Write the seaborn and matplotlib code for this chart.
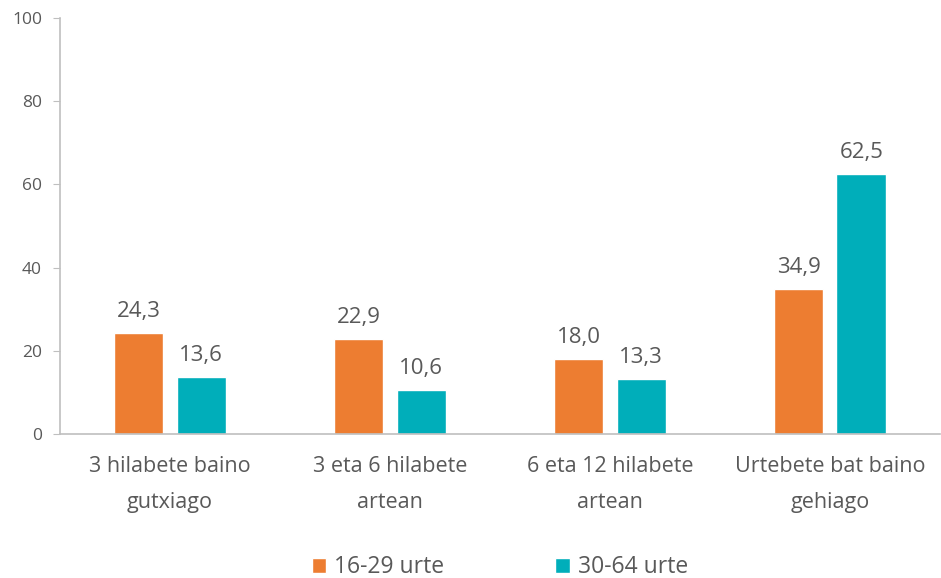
import seaborn as sns
import pandas as pd
import matplotlib.pyplot as plt

categories = ['3 hilabete baino\ngutxiago', '3 eta 6 hilabete\nartean',
              '6 eta 12 hilabete\nartean', 'Urtebete bat baino\ngehiago']
young = [24.3, 22.9, 18.0, 34.9]
older = [13.6, 10.6, 13.3, 62.5]
series_names = ['16-29 urte', '30-64 urte']
yticks = [0, 20, 40, 60, 80, 100]

df = pd.DataFrame({'Kategoria': categories, series_names[0]: young, series_names[1]: older})
df_melted = pd.melt(df, id_vars=['Kategoria'], var_name='Adina', value_name='Balioa')

sns.set_style("white")
plt.rcParams['font.family'] = ['Open Sans', 'DejaVu Sans']
text_color = '#595959'
axis_color = '#BFBFBF'

fig = plt.figure(figsize=(9.41, 5.78), dpi=100)
ax = fig.add_axes([0.0638, 0.249, 0.935, 0.72])

sns.barplot(x='Kategoria', y='Balioa', hue='Adina', data=df_melted,
            palette=['#ED7D31', '#00AEBA'], width=0.57, gap=0.21,
            saturation=1, ax=ax)

for cont in ax.containers:
    labels = [f'{v:.1f}'.replace('.', ',') for v in cont.datavalues]
    ax.bar_label(cont, labels=labels, padding=8, fontsize=16, color=text_color)

ax.set_ylim(0, 100)
ax.set_xlim(-0.5, 3.5)
ax.set_yticks(yticks)
ax.set_xlabel('')
ax.set_ylabel('')
for s in ['top', 'right']:
    ax.spines[s].set_visible(False)
for s in ['left', 'bottom']:
    ax.spines[s].set_color(axis_color)
    ax.spines[s].set_linewidth(1.2)
ax.tick_params(axis='y', length=5, color=axis_color, labelsize=12.5,
               labelcolor=text_color, pad=8, left=True)
ax.tick_params(axis='x', length=0, labelsize=15.5, labelcolor=text_color, pad=16)
for t in ax.get_xticklabels():
    t.set_linespacing(1.9)

ax.get_legend().remove()
handles, labels = ax.get_legend_handles_labels()
fig.legend(handles, labels, loc='lower center', bbox_to_anchor=(0.531, -0.038),
           ncol=2, frameon=False, fontsize=16.5, labelcolor=text_color,
           handlelength=0.65, handleheight=0.65, handletextpad=0.35,
           columnspacing=4.8)

plt.savefig('out.png', dpi=100)
